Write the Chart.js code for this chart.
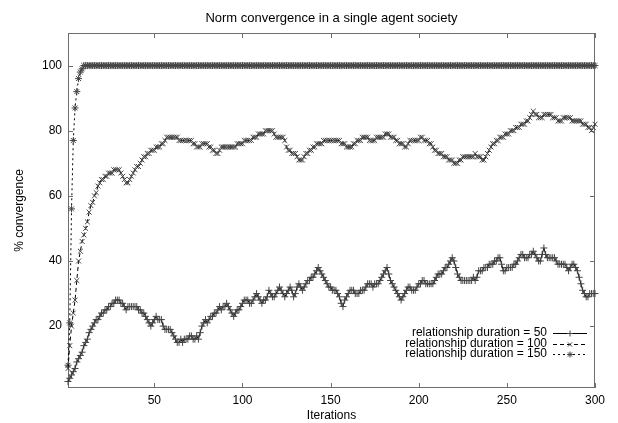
<!DOCTYPE html>
<html>
<head>
<meta charset="utf-8">
<script src="https://cdn.jsdelivr.net/npm/chart.js@4.4.1/dist/chart.umd.min.js"></script>
<style>
  html, body { margin: 0; padding: 0; background: #fff; }
  #wrap { width: 618px; height: 423px; }
</style>
</head>
<body>
<div id="wrap"><canvas id="normChart" width="618" height="423"></canvas></div>
<script>
// % convergence per iteration (iterations 1..300)
const duration50 = [
  3, 4, 5, 6, 7, 9, 10, 11, 12, 14,
  15, 16, 18, 19, 20, 21, 22, 22, 23, 24,
  24, 25, 25, 26, 26, 27, 27, 28, 28, 28,
  27, 27, 26, 25, 26, 26, 26, 26, 26, 26,
  25, 25, 24, 24, 23, 22, 21, 20, 21, 22,
  23, 22, 22, 22, 20, 19, 19, 19, 19, 18,
  17, 16, 15, 15, 16, 15, 16, 16, 16, 17,
  17, 16, 16, 17, 16, 18, 20, 21, 22, 21,
  22, 23, 23, 24, 24, 25, 26, 25, 26, 26,
  27, 26, 25, 24, 23, 24, 25, 25, 26, 27,
  28, 28, 28, 27, 27, 28, 29, 30, 29, 28,
  27, 28, 28, 29, 31, 30, 29, 29, 30, 31,
  32, 31, 30, 29, 30, 31, 32, 31, 29, 30,
  32, 33, 32, 31, 32, 33, 34, 34, 35, 35,
  36, 37, 38, 37, 36, 35, 34, 33, 32, 32,
  31, 31, 31, 30, 29, 27, 26, 28, 29, 30,
  31, 31, 31, 30, 30, 30, 31, 31, 31, 32,
  33, 33, 33, 32, 33, 33, 33, 34, 35, 36,
  37, 38, 36, 34, 33, 32, 31, 30, 29, 28,
  29, 30, 31, 32, 32, 31, 31, 31, 32, 33,
  33, 34, 34, 33, 33, 33, 33, 33, 34, 35,
  36, 36, 36, 37, 38, 38, 39, 40, 41, 40,
  38, 36, 35, 34, 34, 34, 34, 34, 34, 34,
  35, 34, 35, 37, 37, 37, 38, 38, 38, 39,
  39, 39, 40, 40, 41, 41, 39, 37, 37, 38,
  38, 38, 38, 39, 39, 40, 41, 42, 42, 41,
  41, 41, 42, 42, 43, 42, 41, 40, 40, 42,
  44, 42, 41, 41, 41, 41, 41, 40, 39, 39,
  39, 39, 39, 38, 37, 38, 39, 39, 38, 37,
  35, 33, 31, 30, 29, 29, 30, 30, 30, 30
];

const duration100 = [
  7, 14, 20, 24, 28, 34, 40, 43, 46, 48,
  50, 52, 55, 57, 58, 60, 61, 63, 64, 65,
  65, 66, 66, 67, 67, 67, 68, 68, 68, 68,
  67, 66, 65, 64, 64, 65, 66, 67, 68, 69,
  69, 70, 71, 72, 72, 73, 73, 74, 74, 74,
  75, 75, 75, 76, 76, 77, 78, 78, 78, 78,
  78, 78, 78, 77, 77, 77, 77, 77, 77, 77,
  77, 76, 76, 75, 75, 75, 76, 76, 76, 76,
  75, 75, 74, 74, 73, 73, 74, 75, 75, 75,
  75, 75, 75, 75, 75, 75, 76, 76, 76, 76,
  77, 77, 77, 77, 77, 78, 78, 78, 79, 79,
  79, 79, 80, 80, 80, 80, 80, 79, 78, 78,
  78, 78, 78, 77, 75, 74, 74, 73, 73, 73,
  72, 71, 71, 71, 72, 73, 73, 74, 74, 75,
  75, 76, 76, 76, 76, 77, 77, 77, 77, 77,
  77, 77, 77, 77, 77, 76, 76, 76, 75, 75,
  75, 75, 76, 76, 77, 77, 77, 78, 78, 78,
  78, 77, 77, 77, 77, 78, 78, 78, 78, 78,
  79, 79, 79, 78, 78, 78, 77, 77, 76, 76,
  76, 75, 75, 76, 77, 77, 77, 77, 77, 77,
  78, 78, 77, 77, 77, 76, 76, 75, 74, 74,
  73, 73, 73, 72, 72, 72, 71, 71, 71, 70,
  70, 70, 71, 71, 72, 72, 72, 72, 72, 72,
  72, 73, 72, 72, 72, 71, 71, 72, 73, 74,
  75, 76, 76, 77, 77, 78, 78, 78, 79, 79,
  79, 80, 80, 80, 81, 81, 81, 82, 82, 82,
  83, 83, 84, 85, 86, 85, 85, 84, 84, 84,
  85, 85, 85, 85, 85, 84, 84, 84, 83, 83,
  83, 84, 84, 84, 84, 84, 83, 83, 83, 83,
  83, 83, 82, 82, 82, 81, 81, 80, 81, 82
];

const duration150 = [
  8, 21, 56, 77, 87, 92, 96, 98, 99, 100,
  100, 100, 100, 100, 100, 100, 100, 100, 100, 100,
  100, 100, 100, 100, 100, 100, 100, 100, 100, 100,
  100, 100, 100, 100, 100, 100, 100, 100, 100, 100,
  100, 100, 100, 100, 100, 100, 100, 100, 100, 100,
  100, 100, 100, 100, 100, 100, 100, 100, 100, 100,
  100, 100, 100, 100, 100, 100, 100, 100, 100, 100,
  100, 100, 100, 100, 100, 100, 100, 100, 100, 100,
  100, 100, 100, 100, 100, 100, 100, 100, 100, 100,
  100, 100, 100, 100, 100, 100, 100, 100, 100, 100,
  100, 100, 100, 100, 100, 100, 100, 100, 100, 100,
  100, 100, 100, 100, 100, 100, 100, 100, 100, 100,
  100, 100, 100, 100, 100, 100, 100, 100, 100, 100,
  100, 100, 100, 100, 100, 100, 100, 100, 100, 100,
  100, 100, 100, 100, 100, 100, 100, 100, 100, 100,
  100, 100, 100, 100, 100, 100, 100, 100, 100, 100,
  100, 100, 100, 100, 100, 100, 100, 100, 100, 100,
  100, 100, 100, 100, 100, 100, 100, 100, 100, 100,
  100, 100, 100, 100, 100, 100, 100, 100, 100, 100,
  100, 100, 100, 100, 100, 100, 100, 100, 100, 100,
  100, 100, 100, 100, 100, 100, 100, 100, 100, 100,
  100, 100, 100, 100, 100, 100, 100, 100, 100, 100,
  100, 100, 100, 100, 100, 100, 100, 100, 100, 100,
  100, 100, 100, 100, 100, 100, 100, 100, 100, 100,
  100, 100, 100, 100, 100, 100, 100, 100, 100, 100,
  100, 100, 100, 100, 100, 100, 100, 100, 100, 100,
  100, 100, 100, 100, 100, 100, 100, 100, 100, 100,
  100, 100, 100, 100, 100, 100, 100, 100, 100, 100,
  100, 100, 100, 100, 100, 100, 100, 100, 100, 100,
  100, 100, 100, 100, 100, 100, 100, 100, 100, 100
];

const seriesLabels = [
  "relationship duration = 50",
  "relationship duration = 100",
  "relationship duration = 150",
];
const xTicks = [50, 100, 150, 200, 250, 300];
const yTicks = [20, 40, 60, 80, 100];

const FONT = "'Liberation Sans', Arial, Helvetica, sans-serif";

// turn a list of values into {x: iteration, y: value} points
function toPoints(values) {
  return values.map((v, i) => ({ x: i + 1, y: v }));
}

const styles = [
  { pointStyle: "cross", dash: [] },
  { pointStyle: "crossRot", dash: [4, 3] },
  { pointStyle: "star", dash: [2, 3] },
];

// gnuplot-like frame with inward ticks, title and key on the right
const gnuplotFrame = {
  id: "gnuplotFrame",
  beforeDatasetsDraw(chart) {
    const { ctx, chartArea: a, scales } = chart;
    ctx.save();
    ctx.strokeStyle = "#6e6e6e";
    ctx.lineWidth = 1;
    ctx.strokeRect(a.left + 0.5, a.top + 0.5, a.right - a.left - 1, a.bottom - a.top - 1);
    ctx.beginPath();
    xTicks.forEach((v) => {
      const px = Math.round(scales.x.getPixelForValue(v)) + 0.5;
      ctx.moveTo(px, a.bottom);
      ctx.lineTo(px, a.bottom - 5);
      ctx.moveTo(px, a.top);
      ctx.lineTo(px, a.top + 5);
    });
    yTicks.forEach((v) => {
      const py = Math.round(scales.y.getPixelForValue(v)) + 0.5;
      ctx.moveTo(a.left, py);
      ctx.lineTo(a.left + 5, py);
      ctx.moveTo(a.right, py);
      ctx.lineTo(a.right - 5, py);
    });
    ctx.stroke();

    // title
    ctx.fillStyle = "#000";
    ctx.font = "13px " + FONT;
    ctx.textAlign = "center";
    ctx.textBaseline = "middle";
    ctx.fillText("Norm convergence in a single agent society", (a.left + a.right) / 2, 18);
    ctx.restore();
  },
  afterDatasetsDraw(chart) {
    const { ctx } = chart;
    const rows = [333, 343.5, 354];
    ctx.save();
    ctx.font = "12px " + FONT;
    ctx.textAlign = "right";
    ctx.textBaseline = "middle";
    rows.forEach((ry, k) => {
      ctx.fillStyle = "#000";
      ctx.fillText(seriesLabels[k], 547, ry);
      ctx.strokeStyle = "#000";
      ctx.lineWidth = 1;
      ctx.setLineDash(styles[k].dash);
      ctx.beginPath();
      ctx.moveTo(553, Math.round(ry) + 0.5);
      ctx.lineTo(587, Math.round(ry) + 0.5);
      ctx.stroke();
      ctx.setLineDash([]);
      ctx.strokeStyle = "#444";
      Chart.helpers.drawPoint(ctx, {
        pointStyle: styles[k].pointStyle,
        radius: 3,
        rotation: 0,
        borderWidth: 1,
      }, 570, Math.round(ry) + 0.5);
    });
    ctx.restore();
  },
};

const datasets = [duration50, duration100, duration150].map((vals, k) => ({
  label: seriesLabels[k],
  data: toPoints(vals),
  borderColor: "#000",
  borderWidth: 1,
  borderDash: styles[k].dash,
  pointStyle: styles[k].pointStyle,
  pointRadius: 3.5,
  pointBorderColor: "#444",
  pointBackgroundColor: "#444",
  pointBorderWidth: 1,
  tension: 0,
  fill: false,
  clip: 6,
}));

const ctx = document.getElementById("normChart").getContext("2d");
new Chart(ctx, {
  type: "line",
  data: { datasets: datasets },
  plugins: [gnuplotFrame],
  options: {
    responsive: false,
    animation: false,
    devicePixelRatio: 1,
    layout: { padding: { left: 0, right: 23, top: 33, bottom: 0 } },
    plugins: {
      legend: { display: false },
      title: { display: false },
      tooltip: { enabled: false },
    },
    scales: {
      x: {
        type: "linear",
        min: 1,
        max: 300,
        grid: { display: false, drawTicks: false },
        border: { display: false },
        afterBuildTicks: (s) => { s.ticks = xTicks.map((v) => ({ value: v })); },
        afterFit: (s) => { s.height = 35; },
        ticks: {
          color: "#000",
          padding: 5,
          maxRotation: 0,
          autoSkip: false,
          font: { family: FONT, size: 12 },
        },
        title: {
          display: true,
          text: "Iterations",
          color: "#000",
          padding: { top: 0, bottom: 0 },
          font: { family: FONT, size: 12 },
        },
      },
      y: {
        min: 1,
        max: 110,
        grid: { display: false, drawTicks: false },
        border: { display: false },
        afterBuildTicks: (s) => { s.ticks = yTicks.map((v) => ({ value: v })); },
        afterFit: (s) => { s.width = 68; },
        ticks: {
          color: "#000",
          padding: 6,
          autoSkip: false,
          font: { family: FONT, size: 12 },
        },
        title: {
          display: true,
          text: "% convergence",
          color: "#000",
          padding: { top: 12, bottom: 0 },
          font: { family: FONT, size: 12 },
        },
      },
    },
  },
});
</script>
</body>
</html>
